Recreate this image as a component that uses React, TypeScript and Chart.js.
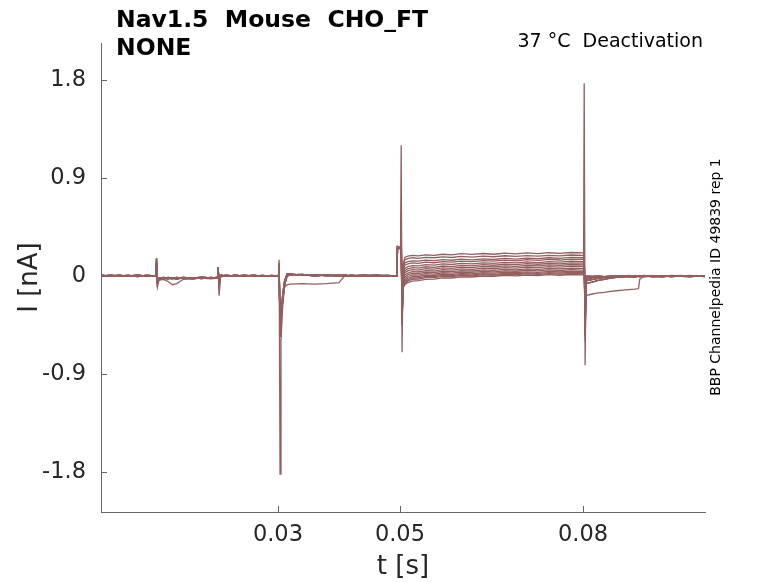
import React, { useEffect, useRef } from "react";
import { Chart, registerables } from "chart.js";

Chart.register(...registerables);

const FONT = "'DejaVu Sans', 'Liberation Sans', sans-serif";
const LINE_COLOR = "#935f5f";
const AXIS_COLOR = "#666666";
const TEXT_COLOR = "#262626";

const titleLines = ["Nav1.5  Mouse  CHO_FT", "NONE"];
const conditionText = "37 °C  Deactivation";
const sideText = "BBP Channelpedia ID 49839 rep 1";
const xTitle = "t [s]";
const yTitle = "I [nA]";

const xTicks = [0.03, 0.05, 0.08];
const yTicks = [-1.8, -0.9, 0, 0.9, 1.8];

// ---- time bases (s) ----
const tPre = [0.001, 0.0025, 0.004, 0.0055, 0.007, 0.0085, 0.01, 0.0101, 0.01025, 0.0105, 0.0112, 0.012, 0.0127, 0.0134, 0.0145, 0.016, 0.0175, 0.019, 0.0201, 0.0202, 0.02035, 0.0206, 0.0215, 0.023, 0.0245, 0.026, 0.0275, 0.029, 0.0301, 0.0302, 0.03035, 0.0305, 0.0308, 0.0311, 0.0315, 0.032, 0.034, 0.036, 0.038, 0.04, 0.0409, 0.042, 0.044, 0.046, 0.048, 0.0495];
const tStep = [0.0496, 0.0501, 0.0502, 0.05035, 0.0505, 0.0508, 0.0513, 0.052, 0.053, 0.0542, 0.0556, 0.057, 0.0585, 0.06, 0.0618, 0.0636, 0.0654, 0.0672, 0.069, 0.0708, 0.0726, 0.0744, 0.0762, 0.078, 0.0801];
const tPost = [0.0802, 0.08035, 0.0805, 0.0808, 0.0815, 0.0825, 0.0835, 0.0845, 0.0855, 0.0865, 0.0875, 0.0885, 0.0891, 0.0893, 0.09, 0.0915, 0.093, 0.0945, 0.096, 0.0975, 0.099, 0.1];

// ---- current (nA) before the deactivation step ----
const preA = [0.005, 0.0, 0.008, -0.004, 0.006, 0.0, 0.004, 0.16, -0.07, -0.03, -0.02, -0.025, -0.015, -0.02, -0.012, -0.02, -0.01, -0.018, -0.015, 0.08, -0.06, 0.01, 0.0, 0.006, -0.003, 0.005, 0.0, 0.004, 0.0, 0.12, -0.55, -0.42, -0.2, -0.06, 0.02, 0.015, 0.01, 0.004, 0.008, 0.0, 0.006, 0.002, 0.007, -0.002, 0.005, 0.0];
const preB = [-0.003, 0.006, -0.002, 0.008, -0.004, 0.004, 0.0, 0.14, -0.1, -0.04, -0.03, -0.05, -0.08, -0.07, -0.03, -0.025, -0.02, -0.025, -0.02, 0.06, -0.18, -0.01, 0.004, -0.004, 0.006, -0.002, 0.005, -0.003, 0.0, 0.15, -1.82, -0.6, -0.25, -0.1, -0.08, -0.075, -0.07, -0.075, -0.07, -0.06, 0.0, 0.005, -0.003, 0.006, 0.0, 0.004];
const preC = [0.0, 0.008, 0.002, 0.006, -0.006, 0.007, -0.002, 0.12, -0.05, -0.025, -0.012, -0.02, -0.025, -0.012, -0.022, -0.014, -0.024, -0.012, -0.02, 0.07, -0.1, 0.0, 0.008, -0.002, 0.007, 0.0, 0.006, -0.004, 0.004, 0.1, -0.45, -0.35, -0.16, -0.04, 0.015, 0.02, 0.006, 0.012, 0.002, 0.009, 0.0, 0.008, 0.0, 0.006, -0.002, 0.006];
const preD = [0.01, -0.004, 0.004, 0.0, 0.01, -0.004, 0.006, 0.1, -0.04, -0.015, -0.028, -0.012, -0.02, -0.028, -0.015, -0.026, -0.015, -0.022, -0.01, 0.05, -0.08, 0.006, -0.004, 0.008, 0.0, 0.008, -0.004, 0.006, -0.002, 0.08, -0.52, -0.4, -0.22, -0.08, 0.0, 0.01, 0.016, 0.0, 0.01, 0.004, 0.01, -0.002, 0.004, 0.008, 0.003, -0.003];

// ---- current (nA) during the step, one array per sweep ----
const step1 = [0.27, 0.26, 1.2, -0.7, 0.1, 0.17, 0.182, 0.19, 0.186, 0.195, 0.19, 0.2, 0.195, 0.205, 0.198, 0.207, 0.2, 0.21, 0.204, 0.212, 0.206, 0.214, 0.208, 0.216, 0.212];
const step2 = [0.27, 0.25, 0.6, -0.45, 0.08, 0.15, 0.16, 0.168, 0.163, 0.172, 0.168, 0.176, 0.17, 0.18, 0.174, 0.183, 0.177, 0.186, 0.18, 0.188, 0.183, 0.19, 0.185, 0.193, 0.19];
const step3 = [0.26, 0.25, 0.5, -0.4, 0.05, 0.12, 0.132, 0.14, 0.136, 0.146, 0.141, 0.15, 0.145, 0.155, 0.149, 0.158, 0.152, 0.162, 0.156, 0.165, 0.159, 0.168, 0.162, 0.171, 0.168];
const step4 = [0.27, 0.26, 0.45, -0.42, 0.03, 0.1, 0.112, 0.12, 0.116, 0.127, 0.122, 0.132, 0.127, 0.137, 0.132, 0.142, 0.136, 0.146, 0.14, 0.15, 0.144, 0.153, 0.147, 0.156, 0.153];
const step5 = [0.26, 0.25, 0.4, -0.38, 0.0, 0.07, 0.086, 0.096, 0.093, 0.104, 0.1, 0.111, 0.106, 0.116, 0.111, 0.121, 0.116, 0.126, 0.12, 0.13, 0.124, 0.133, 0.127, 0.136, 0.133];
const step6 = [0.27, 0.25, 0.35, -0.4, -0.02, 0.05, 0.066, 0.077, 0.073, 0.085, 0.08, 0.092, 0.087, 0.098, 0.093, 0.104, 0.099, 0.109, 0.104, 0.114, 0.108, 0.117, 0.112, 0.121, 0.118];
const step7 = [0.26, 0.26, 0.38, -0.36, -0.03, 0.03, 0.047, 0.058, 0.055, 0.067, 0.063, 0.075, 0.07, 0.081, 0.077, 0.088, 0.083, 0.093, 0.088, 0.098, 0.093, 0.102, 0.097, 0.106, 0.103];
const step8 = [0.27, 0.25, 0.32, -0.42, -0.05, 0.01, 0.027, 0.04, 0.037, 0.05, 0.046, 0.058, 0.054, 0.065, 0.061, 0.072, 0.067, 0.077, 0.073, 0.083, 0.078, 0.087, 0.082, 0.091, 0.088];
const step9 = [0.26, 0.25, 0.42, -0.38, -0.06, -0.01, 0.012, 0.025, 0.023, 0.036, 0.032, 0.044, 0.04, 0.05, 0.046, 0.057, 0.052, 0.062, 0.057, 0.066, 0.061, 0.07, 0.065, 0.073, 0.07];
const step10 = [0.27, 0.26, 0.36, -0.44, -0.07, -0.03, -0.004, 0.01, 0.008, 0.022, 0.018, 0.03, 0.026, 0.037, 0.033, 0.043, 0.039, 0.048, 0.044, 0.053, 0.048, 0.056, 0.051, 0.058, 0.055];
const step11 = [0.26, 0.25, 0.3, -0.4, -0.08, -0.045, -0.02, -0.005, -0.006, 0.008, 0.005, 0.017, 0.013, 0.024, 0.02, 0.03, 0.026, 0.035, 0.031, 0.039, 0.034, 0.042, 0.037, 0.044, 0.04];
const step12 = [0.27, 0.25, 0.34, -0.46, -0.09, -0.055, -0.034, -0.018, -0.018, -0.004, -0.006, 0.006, 0.003, 0.013, 0.01, 0.019, 0.016, 0.024, 0.021, 0.029, 0.025, 0.032, 0.027, 0.034, 0.03];
const step13 = [0.26, 0.26, 0.38, -0.38, -0.1, -0.065, -0.045, -0.03, -0.028, -0.014, -0.015, -0.003, -0.005, 0.005, 0.002, 0.011, 0.008, 0.016, 0.012, 0.019, 0.015, 0.022, 0.017, 0.024, 0.02];
const step14 = [0.27, 0.25, 0.31, -0.42, -0.11, -0.08, -0.06, -0.046, -0.042, -0.03, -0.028, -0.017, -0.018, -0.008, -0.009, 0.0, -0.002, 0.006, 0.002, 0.009, 0.005, 0.012, 0.007, 0.014, 0.01];

// ---- current (nA) after returning to holding ----
const postBig = [1.77, -0.82, -0.05, -0.03, -0.02, -0.01, -0.005, 0.0, 0.004, 0.0, 0.006, -0.002, 0.004, 0.0, 0.005, -0.003, 0.004, 0.0, 0.006, -0.002, 0.004, 0.002];
const postLow = [0.3, -0.6, -0.18, -0.175, -0.165, -0.155, -0.15, -0.14, -0.135, -0.13, -0.125, -0.12, -0.115, -0.03, -0.005, 0.004, -0.002, 0.006, 0.0, 0.005, -0.003, 0.002];
const postA = [0.25, -0.55, 0.0, 0.0, -0.004, 0.002, -0.006, 0.0, -0.004, 0.002, -0.005, -0.01, 0.0, -0.006, 0.002, -0.008, 0.0, -0.005, 0.002, -0.006, 0.0, -0.003];
const postB = [0.2, -0.45, -0.07, -0.065, -0.055, -0.04, -0.03, -0.02, -0.012, -0.008, -0.003, -0.006, 0.0, -0.005, -0.002, 0.003, -0.006, 0.002, -0.004, 0.0, 0.003, -0.004];
const postC = [0.15, -0.5, -0.045, -0.04, -0.032, -0.022, -0.014, -0.008, -0.01, -0.002, -0.006, 0.002, -0.004, 0.0, -0.006, 0.0, 0.003, -0.005, 0.0, -0.003, 0.002, 0.0];
const postD = [0.22, -0.4, -0.02, -0.018, -0.012, -0.008, -0.01, -0.004, -0.008, 0.0, -0.004, -0.008, 0.002, -0.006, 0.0, -0.003, -0.007, 0.002, -0.004, -0.006, 0.0, -0.005];

const preVariants: Record<string, number[]> = { A: preA, B: preB, C: preC, D: preD };
const postVariants: Record<string, number[]> = { A: postA, B: postB, C: postC, D: postD, Big: postBig, Low: postLow };
const sweepSteps = [step1, step2, step3, step4, step5, step6, step7, step8, step9, step10, step11, step12, step13, step14];
const sweepPre = ["A", "C", "D", "A", "C", "D", "A", "C", "D", "A", "B", "C", "D", "A"];
const sweepPost = ["Big", "A", "B", "C", "D", "A", "B", "C", "D", "A", "B", "C", "Low", "D"];

function sweepPoints(i: number) {
  const pre = preVariants[sweepPre[i]];
  const step = sweepSteps[i];
  const post = postVariants[sweepPost[i]];
  return [
    ...tPre.map((t, k) => ({ x: t, y: pre[k] })),
    ...tStep.map((t, k) => ({ x: t, y: step[k] })),
    ...tPost.map((t, k) => ({ x: t, y: post[k] })),
  ];
}

const decorPlugin = {
  id: "decor",
  afterDraw(chart: any) {
    const { ctx, chartArea, scales } = chart;
    ctx.save();
    ctx.strokeStyle = AXIS_COLOR;
    ctx.lineWidth = 1;
    ctx.beginPath();
    yTicks.forEach((v) => {
      const y = Math.round(scales.y.getPixelForValue(v)) + 0.5;
      ctx.moveTo(chartArea.left, y);
      ctx.lineTo(chartArea.left + 6, y);
    });
    xTicks.forEach((v) => {
      const x = Math.round(scales.x.getPixelForValue(v)) + 0.5;
      ctx.moveTo(x, chartArea.bottom);
      ctx.lineTo(x, chartArea.bottom - 6);
    });
    ctx.stroke();

    ctx.fillStyle = "#000000";
    ctx.textAlign = "left";
    ctx.textBaseline = "alphabetic";
    ctx.font = `bold 23.5px ${FONT}`;
    ctx.fillText(titleLines[0], 116, 27);
    ctx.fillText(titleLines[1], 116, 55);

    ctx.font = `19px ${FONT}`;
    ctx.textAlign = "right";
    ctx.fillText(conditionText, 703, 47);

    ctx.translate(716, 277);
    ctx.rotate(-Math.PI / 2);
    ctx.font = `14px ${FONT}`;
    ctx.textAlign = "center";
    ctx.textBaseline = "middle";
    ctx.fillText(sideText, 0, 0);
    ctx.restore();
  },
};

export default function App() {
  const canvasRef = useRef<HTMLCanvasElement | null>(null);

  useEffect(() => {
    document.body.style.margin = "0";
    const canvas = canvasRef.current;
    if (!canvas) return;
    const datasets = sweepSteps.map((_, i) => ({
      label: `sweep ${i + 1}`,
      data: sweepPoints(i),
      borderColor: LINE_COLOR,
      backgroundColor: LINE_COLOR,
      borderWidth: 1.3,
      pointRadius: 0,
      tension: 0,
      fill: false,
    }));
    const chart = new Chart(canvas, {
      type: "line",
      data: { datasets },
      options: {
        animation: false,
        responsive: false,
        events: [],
        layout: { padding: { top: 43, right: 73, left: 0, bottom: 0 } },
        plugins: {
          legend: { display: false },
          tooltip: { enabled: false },
          title: { display: false },
        },
        scales: {
          x: {
            type: "linear",
            min: 0.001,
            max: 0.1,
            grid: { display: false, drawTicks: false },
            border: { display: true, color: AXIS_COLOR, width: 1 },
            afterBuildTicks: (s: any) => {
              s.ticks = xTicks.map((v) => ({ value: v }));
            },
            afterFit: (s: any) => {
              s.height = 71;
            },
            ticks: {
              autoSkip: false,
              maxRotation: 0,
              padding: 10,
              color: TEXT_COLOR,
              font: { family: FONT, size: 22.5 },
              callback: (v: any) => String(v),
            },
            title: {
              display: true,
              text: xTitle,
              color: TEXT_COLOR,
              font: { family: FONT, size: 26 },
              padding: { top: 0, bottom: 0 },
            },
          },
          y: {
            type: "linear",
            min: -2.167,
            max: 2.14,
            grid: { display: false, drawTicks: false },
            border: { display: true, color: AXIS_COLOR, width: 1 },
            afterBuildTicks: (s: any) => {
              s.ticks = yTicks.map((v) => ({ value: v }));
            },
            afterFit: (s: any) => {
              s.width = 101;
            },
            ticks: {
              autoSkip: false,
              padding: 15,
              color: TEXT_COLOR,
              font: { family: FONT, size: 22.5 },
              callback: (v: any) => String(v),
            },
            title: {
              display: true,
              text: yTitle,
              color: TEXT_COLOR,
              font: { family: FONT, size: 26 },
              padding: { top: 15, bottom: 0 },
            },
          },
        },
      },
      plugins: [decorPlugin],
    });
    return () => chart.destroy();
  }, []);

  return (
    <div style={{ position: "absolute", left: 0, top: 0, width: 778, height: 583, background: "#ffffff" }}>
      <canvas ref={canvasRef} width={778} height={583} style={{ display: "block" }} />
    </div>
  );
}
